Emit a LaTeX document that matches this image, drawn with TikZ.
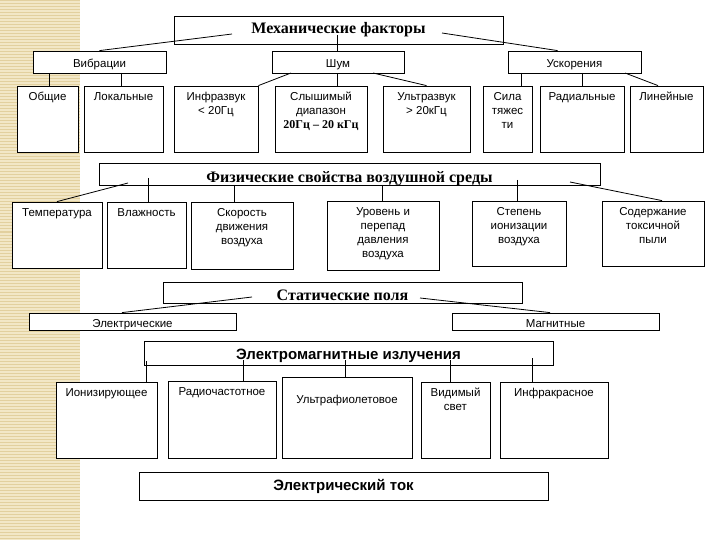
\documentclass[tikz,border=0pt]{standalone}
\usepackage{fontspec}
\setmainfont{Liberation Serif}
\setsansfont{Liberation Sans}
\usetikzlibrary{calc}
\definecolor{beige}{HTML}{F2E7C6}
\definecolor{beigeline}{HTML}{E2D09E}
% [opts]{name}{x1}{y1}{x2}{y2}{content}
\newcommand{\rbox}[7][]{%
  \pgfmathsetmacro\rbcx{(#3+#5)/2}%
  \pgfmathsetmacro\rbcy{(#4+#6)/2}%
  \pgfmathsetmacro\rbw{#5-#3}%
  \pgfmathsetmacro\rbh{#6-#4}%
  \node[box, minimum width=\rbw pt, minimum height=\rbh pt, #1] (#2) at (\rbcx,\rbcy) {#7};}
\begin{document}
\begin{tikzpicture}[x=1pt, y=-1pt,
  box/.style={draw=black, fill=white, line width=0.8pt, inner sep=0pt, font=\sffamily\fontsize{11.5}{14}\selectfont},
  lab/.style={font=\sffamily\fontsize{11.5}{14}\selectfont, align=center, inner sep=0pt, anchor=north, yshift=-6.5pt},
  blab/.style={font=\sffamily\fontsize{11.5}{14}\selectfont, anchor=base, inner sep=0pt},
  serifhead/.style={font=\rmfamily\bfseries\fontsize{16}{18}\selectfont},
  sanshead/.style={font=\sffamily\bfseries\fontsize{15}{18}\selectfont},
  conn/.style={draw=black, line width=0.8pt}]
\useasboundingbox (0,0) rectangle (720,540);
\fill[white] (0,0) rectangle (720,540);
% decorative strip
\fill[beige] (0,0) rectangle (80,540);
\foreach \yy in {1,4,...,540} {\draw[beigeline, line width=1pt] (0,\yy) -- (80,\yy);}

% ---- Mechanical factors
\rbox[serifhead]{mech}{174}{16}{503}{44}{Механические факторы}
\rbox[label={[blab, yshift=6pt]south:Вибрации}]{vib}{33}{51}{166}{73}{}
\rbox[label={[blab, yshift=6pt]south:Шум}]{shum}{272}{51}{404}{73}{}
\rbox[label={[blab, yshift=6pt]south:Ускорения}]{usk}{508}{51}{641}{73}{}

\rbox[label={[lab]north:Общие}]{obsh}{17}{86}{78}{152}{}
\rbox[label={[lab]north:Локальные}]{lok}{84}{86}{163}{152}{}
\rbox[label={[lab]north:Инфразвук\\< 20Гц}]{infra}{174}{86}{258}{152}{}
\rbox[label={[lab]north:Слышимый\\диапазон\\{\rmfamily\bfseries\fontsize{12}{14}\selectfont 20Гц – 20 кГц}}]{slysh}{275}{86}{367}{152}{}
\rbox[label={[lab]north:Ультразвук\\> 20кГц}]{ultra}{383}{86}{470}{152}{}
\rbox[label={[lab]north:Сила\\тяжес\\ти}]{sila}{483}{86}{532}{152}{}
\rbox[label={[lab]north:Радиальные}]{rad}{540}{86}{624}{152}{}
\rbox[label={[lab]north:Линейные}]{lin}{630}{86}{703}{152}{}

% ---- Physical properties of the air
\rbox[label={[serifhead, anchor=base, inner sep=0pt, yshift=3pt]south:Физические свойства воздушной среды}]{fiz}{99}{163}{600}{185}{}
\rbox[label={[lab]north:Температура}]{temp}{12}{202}{102}{268}{}
\rbox[label={[lab]north:Влажность}]{vlaz}{107}{202}{186}{268}{}
\rbox[label={[lab]north:Скорость\\движения\\воздуха}]{skor}{191}{202}{293}{269}{}
\rbox[label={[lab]north:Уровень и\\перепад\\давления\\воздуха}]{urov}{327}{201}{439}{270}{}
\rbox[label={[lab]north:Степень\\ионизации\\воздуха}]{step}{472}{201}{566}{266}{}
\rbox[label={[lab]north:Содержание\\токсичной\\пыли}]{sod}{602}{201}{704}{266}{}

% ---- Static fields
\rbox[label={[serifhead, anchor=base, inner sep=0pt, yshift=3pt]south:Статические поля}]{stat}{163}{282}{522}{303}{}
\rbox[label={[blab, yshift=3pt]south:Электрические}]{elec}{29}{313}{236}{330}{}
\rbox[label={[blab, yshift=3pt]south:Магнитные}]{magn}{452}{313}{659}{330}{}

% ---- Electromagnetic radiation
\rbox[label={[sanshead, anchor=base, inner sep=0pt, yshift=6pt]south:Электромагнитные излучения}]{em}{144}{341}{553}{365}{}
\rbox[label={[lab]north:Ионизирующее}]{ion}{56}{382}{157}{458}{}
\rbox[label={[lab]north:Радиочастотное}]{radio}{168}{381}{276}{458}{}
\rbox[label={[lab, yshift=-12pt]north:Ультрафиолетовое}]{uf}{282}{377}{412}{458}{}
\rbox[label={[lab]north:Видимый\\свет}]{vid}{421}{382}{490}{458}{}
\rbox[label={[lab]north:Инфракрасное}]{ik}{500}{382}{608}{458}{}

% ---- Electric current
\rbox[sanshead]{tok}{139}{472}{548}{500}{Электрический ток}

% ---- free ends of connectors
\coordinate (m1) at (232,34);
\coordinate (m2) at (337,35);
\coordinate (m3) at (442,33);
\coordinate (v1) at (49,73);
\coordinate (v2) at (121,73);
\coordinate (s1) at (291,73);
\coordinate (s3) at (373,73);
\coordinate (u1) at (521,73);
\coordinate (u2) at (582,73);
\coordinate (u3) at (625,73);
\coordinate (f1) at (128,183);
\coordinate (f2) at (148,178);
\coordinate (f3) at (234,185);
\coordinate (f4) at (382,185);
\coordinate (f5) at (517,180);
\coordinate (f6) at (570,182);
\coordinate (t1) at (252,297);
\coordinate (t2) at (420,298);
\coordinate (e1) at (146,361);
\coordinate (e2) at (243,360);
\coordinate (e3) at (345,360);
\coordinate (e4) at (450,360);
\coordinate (e5) at (532,358);

% ---- connectors
\draw[conn] (m1) -- (vib.north);
\draw[conn] (m2) -- (shum.north -| m2);
\draw[conn] (m3) -- ($(usk.north west)+(50,0)$);
\draw[conn] (v1) -- (obsh.north -| v1);
\draw[conn] (v2) -- (lok.north -| v2);
\draw[conn] (s1) -- (infra.north east);
\draw[conn] (shum.south -| m2) -- (slysh.north -| m2);
\draw[conn] (s3) -- (ultra.north);
\draw[conn] (u1) -- (sila.north -| u1);
\draw[conn] (u2) -- (rad.north -| u2);
\draw[conn] (u3) -- ($(lin.north)+(-8.5,0)$);

\draw[conn] (f1) -- (temp.north);
\draw[conn] (f2) -- (vlaz.north -| f2);
\draw[conn] (f3) -- (skor.north -| f3);
\draw[conn] (f4) -- (urov.north -| f4);
\draw[conn] (f5) -- (step.north -| f5);
\draw[conn] (f6) -- ($(sod.north)+(9,0)$);

\draw[conn] (t1) -- ($(elec.north)+(-10.5,0)$);
\draw[conn] (t2) -- ($(magn.north)+(-5.5,0)$);

\draw[conn] (e1) -- (ion.north -| e1);
\draw[conn] (e2) -- (radio.north -| e2);
\draw[conn] (e3) -- (uf.north -| e3);
\draw[conn] (e4) -- (vid.north -| e4);
\draw[conn] (e5) -- (ik.north -| e5);
\end{tikzpicture}
\end{document}
